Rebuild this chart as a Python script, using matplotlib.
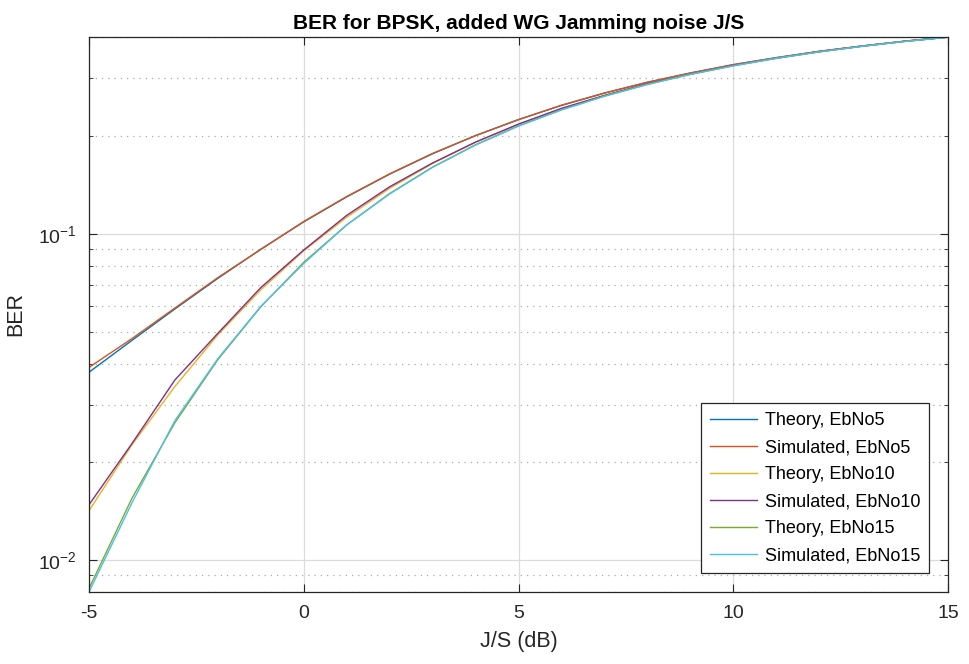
import matplotlib
matplotlib.use("Agg")
import matplotlib.pyplot as plt
from matplotlib.ticker import LogLocator, NullFormatter

plt.rcParams['font.family'] = ['Liberation Sans', 'DejaVu Sans']
plt.rcParams['mathtext.fontset'] = 'custom'
plt.rcParams['mathtext.rm'] = 'Liberation Sans'

js_db = list(range(-5, 16))

theory5 = [0.0377, 0.0472, 0.0589, 0.0731, 0.0898, 0.1089, 0.1299, 0.1525, 0.1761, 0.2002, 0.2241,
           0.2476, 0.2700, 0.2914, 0.3113, 0.3299, 0.3469, 0.3625, 0.3767, 0.3896, 0.4012]
sim5 = [0.0390, 0.0478, 0.0593, 0.0735, 0.0896, 0.1092, 0.1302, 0.1528, 0.1765, 0.2000, 0.2239,
        0.2480, 0.2702, 0.2916, 0.3110, 0.3302, 0.3465, 0.3628, 0.3765, 0.3898, 0.4010]
theory10 = [0.0142, 0.0226, 0.0341, 0.0491, 0.0674, 0.0888, 0.1125, 0.1380, 0.1643, 0.1908, 0.2168,
            0.2420, 0.2658, 0.2882, 0.3090, 0.3282, 0.3457, 0.3616, 0.3761, 0.3891, 0.4009]
sim10 = [0.0148, 0.0228, 0.0357, 0.0496, 0.0685, 0.0893, 0.1140, 0.1395, 0.1650, 0.1912, 0.2170,
         0.2425, 0.2655, 0.2885, 0.3088, 0.3285, 0.3455, 0.3618, 0.3760, 0.3893, 0.4006]
theory15 = [0.0082, 0.0155, 0.0264, 0.0412, 0.0598, 0.0819, 0.1066, 0.1330, 0.1603, 0.1876, 0.2144,
            0.2401, 0.2645, 0.2872, 0.3083, 0.3276, 0.3453, 0.3613, 0.3759, 0.3890, 0.4008]
sim15 = [0.0080, 0.0150, 0.0268, 0.0415, 0.0600, 0.0812, 0.1065, 0.1326, 0.1600, 0.1872, 0.2140,
         0.2398, 0.2640, 0.2870, 0.3080, 0.3272, 0.3450, 0.3611, 0.3756, 0.3888, 0.4005]

series = [
    (theory5, "Theory, EbNo5", "#0072BD"),
    (sim5, "Simulated, EbNo5", "#D95319"),
    (theory10, "Theory, EbNo10", "#EDB120"),
    (sim10, "Simulated, EbNo10", "#7E2F8E"),
    (theory15, "Theory, EbNo15", "#77AC30"),
    (sim15, "Simulated, EbNo15", "#4DBEEE"),
]

fig = plt.figure(figsize=(9.69, 6.64), dpi=100)
ax = fig.add_axes([89/969, 1-592/664, (948-89)/969, (592-37)/664])

for vals, name, col in series:
    ax.semilogy(js_db, vals, color=col, lw=1.0, label=name)

# axis tight
all_vals = theory5 + sim5 + theory10 + sim10 + theory15 + sim15
ax.set_xlim(min(js_db), max(js_db))
ax.set_ylim(min(all_vals), max(all_vals))

ax.set_xticks([-5, 0, 5, 10, 15])
ax.set_xticklabels(['-5', '0', '5', '10', '15'])
ax.yaxis.set_major_locator(LogLocator(base=10))
ax.yaxis.set_minor_locator(LogLocator(base=10, subs=range(2, 10)))
ax.yaxis.set_minor_formatter(NullFormatter())

ax.grid(True, which='major', color='#dcdcdc', lw=0.9, ls='-')
ax.grid(True, which='minor', axis='y', color='#aaaaaa', lw=0.9, ls=(0, (1, 4)))
ax.set_axisbelow(True)

for s in ax.spines.values():
    s.set_color('#262626')
    s.set_linewidth(0.9)
ax.tick_params(which='both', direction='in', top=True, right=True, colors='#262626', labelsize=14,
               labelcolor='#262626')
ax.tick_params(which='major', length=6, pad=9)
ax.tick_params(which='minor', length=3)

ax.set_title('BER for BPSK, added WG Jamming noise J/S', fontsize=15, fontweight='bold', pad=6)
ax.set_xlabel('J/S (dB)', fontsize=15.5, color='#262626', labelpad=7)
ax.set_ylabel('BER', fontsize=15.5, color='#262626', labelpad=8)

leg = ax.legend(loc='lower right', fontsize=13, frameon=True, fancybox=False, framealpha=1,
                edgecolor='#262626', handlelength=2.6, handletextpad=0.4, borderaxespad=1.05,
                labelspacing=0.55, borderpad=0.5)
leg.get_frame().set_linewidth(0.9)

fig.savefig('out.png', dpi=100)
